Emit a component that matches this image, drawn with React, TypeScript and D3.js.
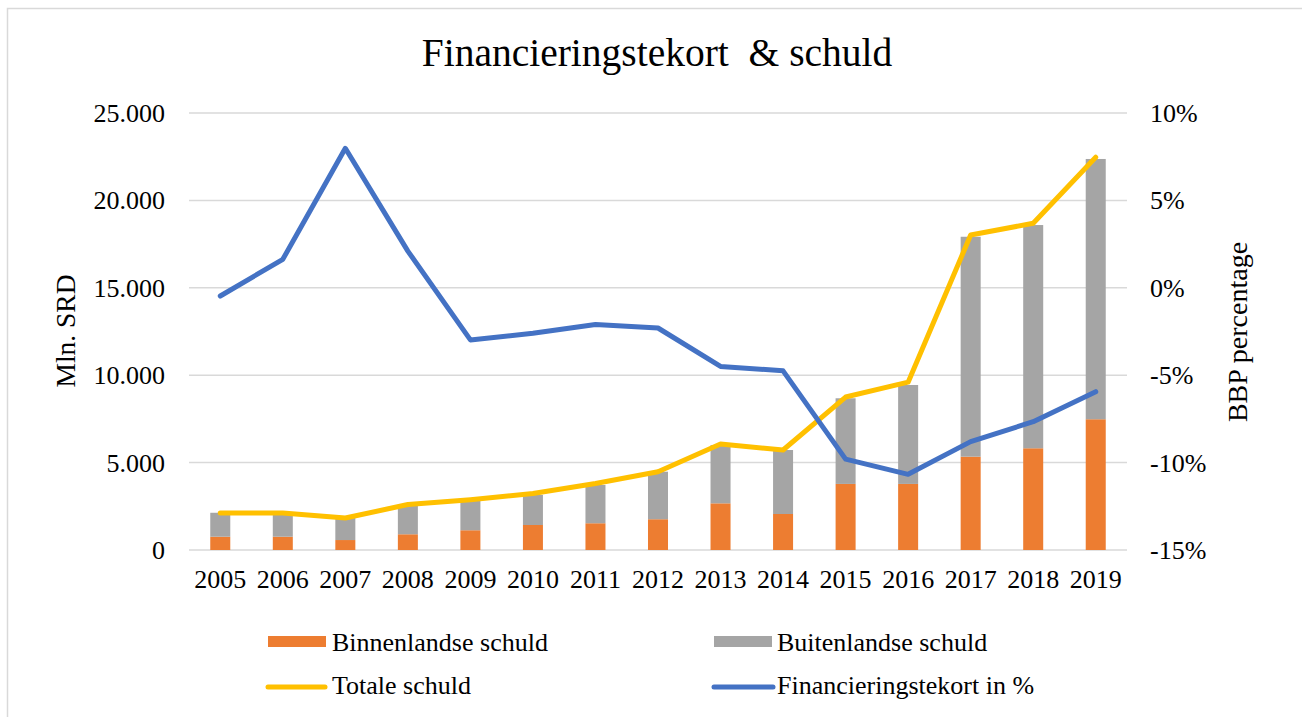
import React from "react";
import * as d3 from "d3";

const years = ["2005","2006","2007","2008","2009","2010","2011","2012","2013","2014","2015","2016","2017","2018","2019"];
const binnenlandse = [760, 760, 570, 900, 1130, 1430, 1530, 1760, 2670, 2060, 3780, 3780, 5340, 5820, 7480];
const buitenlandse = [1370, 1360, 1260, 1670, 1690, 1720, 2190, 2720, 3330, 3660, 4900, 5660, 12580, 12770, 14890];
const totale = [2120, 2120, 1830, 2600, 2880, 3230, 3800, 4480, 6060, 5720, 8750, 9600, 18020, 18690, 22470];
const tekort = [-0.47, 1.63, 7.98, 2.1, -2.98, -2.6, -2.1, -2.3, -4.5, -4.75, -9.8, -10.67, -8.8, -7.66, -5.94];
const leftTicks = [0, 5000, 10000, 15000, 20000, 25000];
const rightTicks = [-15, -10, -5, 0, 5, 10];

const W = 1302, H = 717;
const X0 = 189, X1 = 1127, Y0 = 550, Y1 = 113;
const FONT = "'Liberation Serif', 'Times New Roman', serif";
const C_ORANGE = "#ED7D31", C_GREY = "#A5A5A5", C_YELLOW = "#FFC000", C_BLUE = "#4472C4";
const FS = 26;

export default function App() {
  const x = d3.scaleBand().domain(years).range([X0, X1]).paddingInner(0.68).paddingOuter(0.34);
  const yL = d3.scaleLinear().domain([0, 25000]).range([Y0, Y1]);
  const yR = d3.scaleLinear().domain([-15, 10]).range([Y0, Y1]);
  const cx = (y: string) => (x(y) as number) + x.bandwidth() / 2;
  const fmt = (v: number) => v === 0 ? "0" : d3.format(",")(v).replace(/,/g, ".");
  const lineTot = d3.line<number>().x((_, i) => cx(years[i])).y(v => yL(v));
  const lineDef = d3.line<number>().x((_, i) => cx(years[i])).y(v => yR(v));

  return (
    <svg width={W} height={H} style={{ position: "absolute", left: 0, top: 0, background: "#fff" }} fontFamily={FONT}>
      <rect x={7.5} y={8.5} width={1310} height={720} fill="#fff" stroke="#d9d9d9" strokeWidth={1.5} />
      <text x={657} y={66} textAnchor="middle" fontSize={39.5} fill="#000" style={{ whiteSpace: "pre" }}>{"Financieringstekort  & schuld"}</text>
      {leftTicks.map(t => (
        <g key={t}>
          <line x1={X0} x2={X1} y1={yL(t)} y2={yL(t)} stroke="#d9d9d9" strokeWidth={1.5} />
          <text x={165} y={yL(t) + 9} textAnchor="end" fontSize={FS}>{fmt(t)}</text>
        </g>
      ))}
      {rightTicks.map(t => (
        <text key={t} x={1150} y={yR(t) + 9} textAnchor="start" fontSize={FS}>{t + "%"}</text>
      ))}
      {years.map((yr, i) => (
        <g key={yr}>
          <rect x={x(yr)} width={x.bandwidth()} y={yL(binnenlandse[i])} height={yL(0) - yL(binnenlandse[i])} fill={C_ORANGE} />
          <rect x={x(yr)} width={x.bandwidth()} y={yL(binnenlandse[i] + buitenlandse[i])} height={yL(binnenlandse[i]) - yL(binnenlandse[i] + buitenlandse[i])} fill={C_GREY} />
          <text x={cx(yr)} y={588} textAnchor="middle" fontSize={FS}>{yr}</text>
        </g>
      ))}
      <path d={lineTot(totale) || ""} fill="none" stroke={C_YELLOW} strokeWidth={5} strokeLinejoin="round" strokeLinecap="round" />
      <path d={lineDef(tekort) || ""} fill="none" stroke={C_BLUE} strokeWidth={5} strokeLinejoin="round" strokeLinecap="round" />
      <text transform={`translate(75,331) rotate(-90)`} textAnchor="middle" fontSize={27.5}>Mln. SRD</text>
      <text transform={`translate(1247,332) rotate(-90)`} textAnchor="middle" fontSize={28}>BBP percentage</text>
      <g fontSize={FS}>
        <rect x={268} y={636} width={58} height={11} fill={C_ORANGE} />
        <text x={332} y={651}>Binnenlandse schuld</text>
        <rect x={714} y={636} width={58} height={11} fill={C_GREY} />
        <text x={777} y={651}>Buitenlandse schuld</text>
        <line x1={268} x2={325} y1={687} y2={687} stroke={C_YELLOW} strokeWidth={5} strokeLinecap="round" />
        <text x={332} y={694}>Totale schuld</text>
        <line x1={714} x2={773} y1={687} y2={687} stroke={C_BLUE} strokeWidth={5} strokeLinecap="round" />
        <text x={777} y={694}>Financieringstekort in %</text>
      </g>
    </svg>
  );
}
